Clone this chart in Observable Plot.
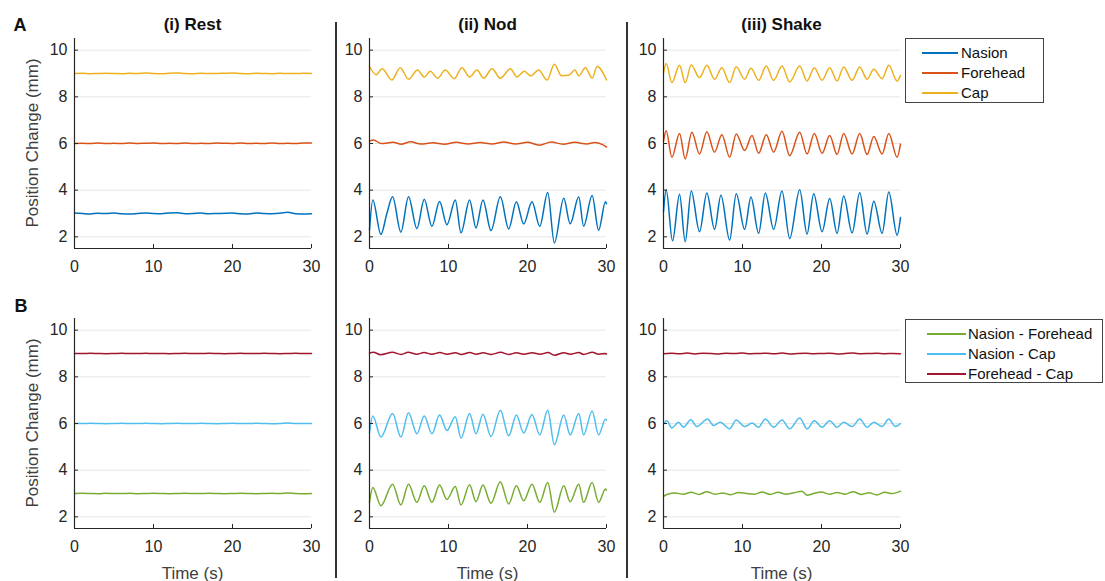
<!DOCTYPE html>
<html><head><meta charset="utf-8">
<script src="https://cdn.jsdelivr.net/npm/d3@7"></script>
<script src="https://cdn.jsdelivr.net/npm/@observablehq/plot@0.6"></script>
<style>
body{margin:0;background:#fff;font-family:"Liberation Sans",Arial,sans-serif;}
#wrap{position:relative;width:1105px;height:581px;overflow:hidden;background:#fff;}
.abs{position:absolute;white-space:nowrap;line-height:1;}
.panel{position:absolute;}
</style></head><body><div id="wrap"></div>
<script>
// ---------- labels & ticks ----------
const timeTicks = [0, 10, 20, 30];
const posTicks = [2, 4, 6, 8, 10];
const columnTitles = ["(i) Rest", "(ii) Nod", "(iii) Shake"];
const rowLabels = ["A", "B"];
const seriesA = ["Nasion", "Forehead", "Cap"];
const seriesB = ["Nasion - Forehead", "Nasion - Cap", "Forehead - Cap"];
const colorsA = ["#0072BD", "#D95319", "#EDB120"];
const colorsB = ["#77AC30", "#4DBEEE", "#A2142F"];
const yLabel = "Position Change (mm)";
const xLabel = "Time (s)";

// ---------- A: marker positions (time s, position mm) ----------
const restNasion = [[0,3.02],[1,3.0],[2,2.98],[3,3.01],[4,3.0],[5,3.02],[6,2.99],[7,2.98],[8,3.0],[9,3.02],[10,3.0],[11,2.99],[12,3.02],[13,3.03],[14,2.99],[15,3.0],[16,3.02],[17,2.99],[18,3.0],[19,3.01],[20,3.02],[21,2.99],[22,2.98],[23,3.02],[24,3.0],[25,2.99],[26,3.01],[27,3.05],[28,2.99],[29,2.98],[30,2.99]];
const restForehead = [[0,6.0],[1,6.01],[2,6.0],[3,6.02],[4,6.0],[5,6.01],[6,6.0],[7,6.02],[8,6.0],[9,6.01],[10,6.02],[11,6.0],[12,6.01],[13,6.0],[14,6.02],[15,6.0],[16,6.01],[17,6.0],[18,6.02],[19,6.01],[20,6.0],[21,6.02],[22,6.0],[23,6.01],[24,6.0],[25,6.02],[26,6.0],[27,6.01],[28,6.0],[29,6.02],[30,6.02]];
const restCap = [[0,9.0],[1,9.01],[2,8.99],[3,9.0],[4,9.01],[5,9.0],[6,8.99],[7,9.01],[8,9.0],[9,9.02],[10,9.0],[11,8.99],[12,9.01],[13,9.02],[14,9.0],[15,8.99],[16,9.01],[17,9.0],[18,9.0],[19,9.01],[20,9.02],[21,9.0],[22,8.99],[23,9.01],[24,9.0],[25,8.99],[26,9.01],[27,9.0],[28,9.0],[29,9.01],[30,9.0]];

const nodNasion = [[0,2.3],[0.42,3.58],[1.44,2.1],[2.2,3.0],[2.92,3.72],[3.97,2.2],[4.94,3.72],[6.0,2.35],[6.93,3.61],[7.9,2.45],[8.87,3.51],[9.8,2.52],[10.86,3.58],[11.58,2.17],[12.67,3.58],[13.48,2.38],[14.36,3.58],[15.38,2.27],[16.56,3.72],[17.62,2.34],[18.59,3.5],[19.52,2.55],[20.57,3.5],[21.55,2.45],[22.56,3.9],[23.4,1.74],[24.59,3.65],[25.4,2.56],[26.49,3.72],[27.1,2.45],[28.18,3.77],[29.0,2.28],[29.87,3.5],[30,3.42]];
const nodForehead = [[0,6.1],[0.5,6.15],[1.5,6.0],[3,6.05],[4,5.97],[5.2,6.07],[6.5,5.98],[8,6.03],[9.5,5.97],[11,6.05],[12.5,5.98],[14,6.04],[15.5,5.98],[17,6.06],[18.5,5.98],[20,6.05],[21.5,5.93],[23,6.06],[24.5,5.97],[26,6.05],[27.5,5.98],[28.5,6.04],[29.5,5.95],[30,5.85]];
const nodCap = [[0,9.3],[0.84,8.95],[1.6,9.2],[2.83,8.72],[3.89,9.25],[4.94,8.75],[6.08,9.15],[6.93,8.85],[7.69,9.1],[8.62,8.8],[9.59,9.15],[10.73,8.78],[11.7,9.25],[12.67,8.85],[13.6,9.15],[14.45,8.8],[15.5,9.2],[16.56,8.8],[17.83,9.2],[18.67,8.85],[19.6,9.1],[20.4,8.9],[21.42,9.15],[22.48,8.72],[23.4,9.4],[24.3,8.9],[25.2,8.92],[26.0,9.15],[26.5,8.9],[27.33,9.25],[28.18,8.8],[28.81,9.3],[30,8.72]];

const shakeNasion = [[0,3.1],[0.34,4.02],[1.14,1.83],[2.03,3.82],[2.75,1.79],[3.51,3.96],[4.56,2.22],[5.49,3.88],[6.46,2.32],[7.27,3.78],[8.37,1.86],[9.21,3.85],[10.27,2.32],[11.07,3.71],[12.04,2.15],[12.89,3.88],[13.94,2.32],[15.0,3.96],[15.97,1.93],[17.24,4.02],[18.17,2.12],[19.01,3.85],[20.07,2.22],[21.04,3.64],[21.97,2.15],[22.81,3.75],[23.87,2.17],[24.84,3.89],[25.77,2.12],[26.62,3.53],[27.67,2.15],[28.52,3.92],[29.57,2.07],[30,2.83]];
const shakeForehead = [[0,6.1],[0.34,6.55],[1.06,5.41],[2.03,6.43],[2.75,5.34],[3.59,6.48],[4.56,5.55],[5.49,6.5],[6.46,5.63],[7.39,6.38],[8.37,5.41],[9.21,6.41],[10.27,5.7],[11.2,6.34],[12.04,5.58],[13.01,6.38],[13.94,5.63],[15.0,6.52],[15.97,5.48],[17.24,6.48],[18.17,5.55],[19.09,6.43],[20.07,5.58],[21.04,6.34],[21.97,5.53],[22.81,6.43],[23.87,5.55],[24.84,6.43],[25.77,5.53],[26.62,6.3],[27.67,5.55],[28.52,6.43],[29.57,5.41],[30,5.98]];
const shakeCap = [[0,9.03],[0.34,9.43],[1.06,8.61],[2.03,9.35],[2.75,8.61],[3.51,9.36],[4.56,8.82],[5.49,9.35],[6.46,8.75],[7.39,9.25],[8.37,8.61],[9.21,9.29],[10.27,8.75],[11.07,9.22],[12.04,8.71],[13.01,9.32],[13.94,8.71],[15.0,9.32],[15.97,8.64],[17.24,9.32],[18.17,8.68],[19.09,9.25],[20.07,8.71],[21.04,9.25],[21.97,8.68],[22.81,9.28],[23.87,8.71],[24.84,9.28],[25.77,8.75],[26.62,9.18],[27.67,8.78],[28.52,9.35],[29.57,8.68],[30,8.92]];

// ---------- B: relative distances ----------
const restNF = [[0,3.0],[1,3.01],[2,3.0],[3,2.99],[4,3.01],[5,3.0],[6,3.0],[7,3.01],[8,2.99],[9,3.0],[10,3.01],[11,3.0],[12,2.99],[13,3.0],[14,3.01],[15,3.0],[16,3.0],[17,3.01],[18,3.0],[19,2.99],[20,3.0],[21,3.01],[22,3.0],[23,2.99],[24,3.0],[25,3.01],[26,3.0],[27,3.02],[28,3.0],[29,2.99],[30,3.0]];
const restNC = [[0,6.0],[1,6.0],[2,6.01],[3,6.0],[4,5.99],[5,6.0],[6,6.01],[7,6.0],[8,6.0],[9,6.01],[10,6.0],[11,5.99],[12,6.0],[13,6.01],[14,6.0],[15,6.0],[16,6.01],[17,6.0],[18,5.99],[19,6.0],[20,6.01],[21,6.0],[22,6.0],[23,6.01],[24,6.0],[25,5.99],[26,6.0],[27,6.02],[28,6.0],[29,6.0],[30,6.0]];
const restFC = [[0,9.0],[1,9.0],[2,9.01],[3,9.0],[4,8.99],[5,9.0],[6,9.01],[7,9.0],[8,9.0],[9,9.01],[10,9.0],[11,9.0],[12,8.99],[13,9.0],[14,9.01],[15,9.0],[16,9.0],[17,9.01],[18,9.0],[19,8.99],[20,9.0],[21,9.01],[22,9.0],[23,9.0],[24,9.01],[25,9.0],[26,8.99],[27,9.0],[28,9.01],[29,9.0],[30,9.0]];

const nodNF = [[0,2.62],[0.42,3.26],[1.44,2.48],[2.92,3.4],[3.97,2.51],[4.94,3.4],[6.0,2.62],[6.93,3.33],[7.9,2.62],[8.87,3.36],[9.8,2.74],[10.86,3.3],[11.58,2.51],[12.67,3.37],[13.48,2.65],[14.36,3.36],[15.38,2.58],[16.56,3.5],[17.62,2.55],[18.59,3.33],[19.52,2.69],[20.57,3.4],[21.55,2.62],[22.56,3.47],[23.4,2.2],[24.59,3.33],[25.4,2.65],[26.49,3.4],[27.1,2.62],[28.18,3.47],[29.0,2.62],[29.87,3.19],[30,3.15]];
const nodNC = [[0,5.6],[0.42,6.32],[1.44,5.42],[2.92,6.43],[3.97,5.42],[4.94,6.46],[6.0,5.56],[6.93,6.32],[7.9,5.56],[8.87,6.36],[9.8,5.7],[10.86,6.29],[11.58,5.37],[12.67,6.43],[13.48,5.56],[14.36,6.4],[15.38,5.44],[16.56,6.57],[17.62,5.47],[18.59,6.36],[19.52,5.59],[20.57,6.39],[21.55,5.51],[22.56,6.57],[23.4,5.09],[24.59,6.36],[25.4,5.51],[26.49,6.43],[27.1,5.51],[28.18,6.54],[29.0,5.51],[29.87,6.18],[30,6.15]];
const nodFC = [[0,9.02],[0.5,9.05],[1.4,8.95],[2.9,9.05],[4.0,8.96],[4.9,9.05],[6.0,8.97],[6.9,9.04],[7.9,8.97],[8.9,9.04],[9.8,8.97],[10.9,9.03],[11.6,8.96],[12.7,9.04],[13.5,8.97],[14.4,9.03],[15.4,8.96],[16.6,9.05],[17.6,8.96],[18.6,9.03],[19.5,8.97],[20.6,9.03],[21.6,8.97],[22.6,9.04],[23.4,8.93],[24.6,9.03],[25.4,8.97],[26.5,9.04],[27.1,8.96],[28.2,9.05],[29.0,8.97],[29.9,9.0],[30,8.98]];

const shakeNF = [[0,2.88],[0.5,2.97],[1.5,3.02],[2.5,2.97],[3.5,3.05],[4.5,2.96],[5.5,3.08],[6.5,2.97],[7.5,3.02],[8.5,2.95],[9.5,3.04],[10.5,3.0],[11.5,2.97],[12.5,3.06],[13.5,2.96],[14.5,3.05],[15.5,2.97],[16.5,3.03],[17.5,3.1],[18.2,2.93],[19,3.0],[20,3.06],[21,2.97],[22,3.04],[23,2.97],[24,3.08],[25,2.96],[26,3.03],[27,2.94],[28,3.05],[29,3.0],[30,3.1]];
const shakeNC = [[0,5.98],[0.42,6.12],[1.06,5.81],[1.9,6.05],[2.53,5.84],[3.46,6.16],[4.22,5.87],[5.58,6.19],[6.34,5.91],[7.18,6.05],[8.37,5.77],[9.21,6.15],[10.27,5.87],[11.2,6.02],[12.04,5.84],[12.89,6.19],[13.94,5.84],[15.0,6.15],[15.97,5.77],[17.24,6.24],[18.17,5.77],[19.1,6.12],[20.07,5.84],[21.04,6.12],[21.97,5.84],[22.81,6.05],[23.87,5.87],[24.84,6.19],[25.77,5.84],[26.62,6.05],[27.67,5.87],[28.52,6.19],[29.36,5.87],[30,6.0]];
const shakeFC = [[0,8.99],[1,9.01],[2,8.99],[3,9.02],[4,8.98],[5,9.01],[6,9.0],[7,8.98],[8,9.01],[9,9.0],[10,9.02],[11,8.99],[12,9.0],[13,9.01],[14,8.99],[15,9.02],[16,8.98],[17,9.0],[18,9.01],[19,8.99],[20,9.0],[21,9.01],[22,8.98],[23,9.0],[24,9.02],[25,8.99],[26,9.0],[27,9.01],[28,8.99],[29,9.0],[30,8.99]];

// ---------- layout ----------
const FONT = '"Liberation Sans", Arial, sans-serif';
const colX = [74, 369, 663];      // left edge of plot area per column
const rowY = [38, 318];           // top edge of plot area per row
const plotW = 237, plotH = 210;
const mL = 45, mR = 10, mT = 10, mB = 30;

const panels = [
  {row:0,col:0,data:[restNasion,restForehead,restCap],colors:colorsA},
  {row:0,col:1,data:[nodNasion,nodForehead,nodCap],colors:colorsA},
  {row:0,col:2,data:[shakeNasion,shakeForehead,shakeCap],colors:colorsA},
  {row:1,col:0,data:[restNF,restNC,restFC],colors:colorsB},
  {row:1,col:1,data:[nodNF,nodNC,nodFC],colors:colorsB},
  {row:1,col:2,data:[shakeNF,shakeNC,shakeFC],colors:colorsB}
];

const wrap = document.getElementById("wrap");
function addText(txt, x, y, opts = {}) {
  const d = document.createElement("div");
  d.className = "abs";
  d.textContent = txt;
  d.style.fontSize = (opts.size || 16) + "px";
  d.style.fontWeight = opts.bold ? "bold" : "normal";
  d.style.color = opts.color || "#262626";
  d.style.left = x + "px";
  d.style.top = y + "px";
  d.style.transform = `translate(-50%,-50%)${opts.rotate ? " rotate(-90deg)" : ""}`;
  wrap.appendChild(d);
}

for (const p of panels) {
  const svg = Plot.plot({
    width: mL + plotW + mR, height: mT + plotH + mB,
    marginLeft: mL, marginRight: mR, marginTop: mT, marginBottom: mB,
    style: {fontFamily: FONT, fontSize: "16px", color: "#262626", background: "transparent", overflow: "visible"},
    x: {domain: [0, 30]},
    y: {domain: [1.5, 10.5]},
    marks: [
      Plot.ruleY(posTicks, {stroke: "#e6e6e6", strokeWidth: 1}),
      ...p.data.map((s, i) => Plot.line(s, {x: d => d[0], y: d => d[1], stroke: p.colors[i], strokeWidth: 1.5, curve: "monotone-x"})),
      Plot.ruleX([0], {stroke: "#262626", strokeWidth: 1.2}),
      Plot.ruleY([1.5], {stroke: "#262626", strokeWidth: 1.2}),
      Plot.ruleX(timeTicks, {stroke: "#262626", insetTop: plotH - 4}),
      Plot.ruleY(posTicks, {stroke: "#262626", insetRight: plotW - 4}),
      Plot.axisX({ticks: timeTicks, tickSize: 0, tickPadding: 12, label: null, fontSize: 16, fill: "#262626"}),
      Plot.axisY({ticks: posTicks, tickSize: 0, tickPadding: 7, label: null, fontSize: 16, fill: "#262626"})
    ]
  });
  svg.classList.add("panel");
  svg.style.left = (colX[p.col] - mL) + "px";
  svg.style.top = (rowY[p.row] - mT) + "px";
  wrap.appendChild(svg);
}

// column titles
columnTitles.forEach((t, i) => addText(t, colX[i] + plotW / 2, 24, {bold: true, size: 17, color: "#111"}));
// row letters
addText(rowLabels[0], 20, 25, {bold: true, size: 18, color: "#111"});
addText(rowLabels[1], 21, 306, {bold: true, size: 18, color: "#111"});
// y labels
addText(yLabel, 32, 143, {size: 17, rotate: true, color: "#404040"});
addText(yLabel, 32, 423, {size: 17, rotate: true, color: "#404040"});
// x labels (bottom row)
colX.forEach(x => addText(xLabel, x + plotW / 2, 573, {size: 17, color: "#404040"}));

// separators
[335.5, 626.5].forEach(x => {
  const d = document.createElement("div");
  d.style.cssText = `position:absolute;left:${x - 1}px;top:22px;width:2px;height:556px;background:#333;`;
  wrap.appendChild(d);
});

// legends
function legend(names, colors, left, top, width, height, lineX, lineW, textX) {
  const box = document.createElement("div");
  box.style.cssText = `position:absolute;left:${left}px;top:${top}px;width:${width}px;height:${height}px;border:1px solid #444;background:#fff;box-sizing:border-box;`;
  names.forEach((n, i) => {
    const cy = 14 + i * 20;
    const ln = document.createElement("div");
    ln.style.cssText = `position:absolute;left:${lineX}px;top:${cy - 1}px;width:${lineW}px;height:2px;background:${colors[i]};`;
    box.appendChild(ln);
    const tx = document.createElement("div");
    tx.className = "abs";
    tx.textContent = n;
    tx.style.cssText += `left:${textX}px;top:${cy - 8}px;font-size:15px;color:#111;font-family:${FONT};`;
    box.appendChild(tx);
  });
  wrap.appendChild(box);
}
legend(seriesA, colorsA, 905, 38, 139, 65, 16, 36, 55);
legend(seriesB, colorsB, 905, 319, 198, 64, 21, 39, 62);
</script></body></html>
